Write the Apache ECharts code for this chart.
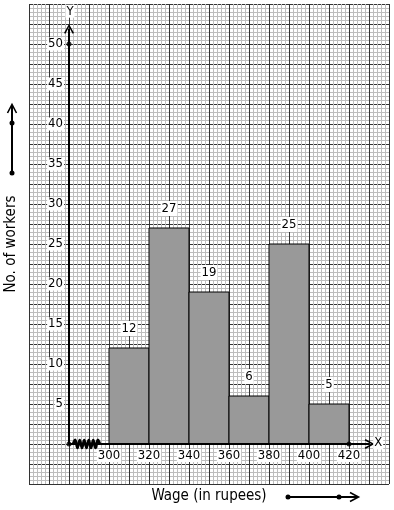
<!DOCTYPE html>
<html><head><meta charset="utf-8">
<script src="https://cdn.jsdelivr.net/npm/echarts@6/dist/echarts.min.js"></script>
<style>html,body{margin:0;padding:0;background:#fff}#c{width:394px;height:510px}</style>
</head><body><div id="c"></div>
<script>
// ---- data ----
const binStarts = [300, 320, 340, 360, 380, 400];
const binWidth = 20;
const workers = [12, 27, 19, 6, 25, 5];
const xTickLabels = [300, 320, 340, 360, 380, 400, 420];
const yTickLabels = [5, 10, 15, 20, 25, 30, 35, 40, 45, 50];
const xRange = [260, 440];
const yRange = [-5, 55];
const originX = 280;          // broken x-axis starts here
const axisDots = [[280, 0], [280, 50], [420, 0]];
const yAxisTop = 51.9;
const xAxisEnd = 430.3;

const FONT = "'DejaVu Sans Condensed', 'DejaVu Sans', sans-serif";
const chevron = 'path://M5,0 L10,9 L8.6,9.8 L5,3.2 L1.4,9.8 L0,9 Z';

const chart = echarts.init(document.getElementById('c'), null, {renderer: 'canvas'});

const gridAxisX = {
  type: 'value', min: xRange[0], max: xRange[1], interval: 10, position: 'bottom',
  axisLine: {show: false}, axisTick: {show: false}, axisLabel: {show: false},
  splitLine: {show: true, lineStyle: {color: '#333', width: 1}},
  minorTick: {show: false, splitNumber: 5},
  minorSplitLine: {show: true, lineStyle: {color: '#bdbdbd', width: 1}},
  name: 'Wage (in rupees)', nameLocation: 'middle', nameGap: 5,
  nameTextStyle: {fontFamily: FONT, fontSize: 15, color: '#000'}
};
const gridAxisY = {
  type: 'value', min: yRange[0], max: yRange[1], interval: 2.5, position: 'left',
  axisLine: {show: false}, axisTick: {show: false}, axisLabel: {show: false},
  splitLine: {show: true, lineStyle: {color: '#333', width: 1}},
  minorTick: {show: false, splitNumber: 5},
  minorSplitLine: {show: true, lineStyle: {color: '#bdbdbd', width: 1}},
  name: 'No. of workers', nameLocation: 'middle', nameGap: 10, nameRotate: 90,
  nameTextStyle: {fontFamily: FONT, fontSize: 15, color: '#000'}
};
const labelAxisX = {
  type: 'value', min: xRange[0], max: xRange[1], interval: 20, position: 'bottom', offset: -40,
  axisLine: {show: false}, axisTick: {show: false}, splitLine: {show: false},
  axisLabel: {
    show: true, margin: 5, fontFamily: FONT, fontSize: 13, color: '#000',
    backgroundColor: '#fff', padding: [0, 1],
    showMinLabel: true, showMaxLabel: true,
    formatter: v => xTickLabels.indexOf(v) >= 0 ? String(v) : ''
  }
};
const labelAxisY = {
  type: 'value', min: yRange[0], max: yRange[1], interval: 5, position: 'left', offset: -40,
  axisLine: {show: false}, axisTick: {show: false}, splitLine: {show: false},
  axisLabel: {
    show: true, margin: 5, fontFamily: FONT, fontSize: 13, color: '#000',
    backgroundColor: '#fff', padding: [0, 1],
    showMinLabel: true, showMaxLabel: true,
    formatter: v => yTickLabels.indexOf(v) >= 0 ? String(v) : ''
  }
};

chart.setOption({
  animation: false,
  backgroundColor: '#fff',
  grid: {left: 29, top: 4, width: 360, height: 480, containLabel: false, outerBoundsMode: 'none'},
  xAxis: [gridAxisX, labelAxisX],
  yAxis: [gridAxisY, labelAxisY],
  series: [
    {
      type: 'custom', xAxisIndex: 0, yAxisIndex: 0, silent: true, z: 5,
      data: binStarts.map((s, i) => [s, s + binWidth, workers[i]]),
      renderItem: function (params, api) {
        const p0 = api.coord([api.value(0), api.value(2)]);
        const p1 = api.coord([api.value(1), 0]);
        return {
          type: 'group',
          children: [
            {type: 'rect',
             shape: {x: p0[0], y: p0[1], width: p1[0] - p0[0], height: p1[1] - p0[1]},
             style: {fill: '#999999', stroke: '#000', lineWidth: 1}},
            {type: 'text',
             style: {text: String(api.value(2)), x: (p0[0] + p1[0]) / 2, y: p0[1] - 12,
                     align: 'center', verticalAlign: 'bottom', fill: '#000',
                     fontFamily: FONT, fontSize: 13, backgroundColor: '#fff', padding: [1, 1]}}
          ]
        };
      }
    },
    {
      type: 'scatter', xAxisIndex: 0, yAxisIndex: 0, silent: true, z: 10,
      symbol: 'circle', symbolSize: 5, itemStyle: {color: '#000'},
      data: axisDots,
      markLine: {
        silent: true, animation: false, z: 9,
        label: {show: false},
        lineStyle: {color: '#000', width: 2, type: 'solid'},
        symbolKeepAspect: true,
        data: [
          [{coord: [originX, 0], symbol: 'none'},
           {coord: [originX, yAxisTop], symbol: chevron, symbolSize: [10, 10]}],
          [{coord: [originX, 0], symbol: 'none'},
           {coord: [xAxisEnd, 0], symbol: chevron, symbolSize: [10, 10]}]
        ]
      }
    }
  ]
});

// decorative: axis letters, zig-zag break, title arrows
const px = v => chart.convertToPixel({xAxisIndex: 0, yAxisIndex: 0}, v);
const zA = px([282, 0]), zB = px([295.5, 0]);
const zig = [];
const nSeg = 12;
for (let k = 0; k <= nSeg; k++) {
  const x = zA[0] + (zB[0] - zA[0]) * k / nSeg;
  const y = zA[1] + ((k === 0 || k === nSeg) ? 0 : (k % 2 ? -4 : 4));
  zig.push([x, y]);
}
const yLab = px([originX, 54.1]);
const xLab = px([434.6, 0]);

chart.setOption({
  graphic: [
    {type: 'polyline', z: 20, shape: {points: zig, smooth: 0.4}, style: {stroke: '#000', lineWidth: 2.6, fill: null}},
    {type: 'text', z: 20, x: yLab[0] + 1, y: yLab[1],
     style: {text: 'Y', fontFamily: FONT, fontSize: 13, fill: '#000', align: 'center', verticalAlign: 'middle',
             backgroundColor: '#fff', padding: [0, 1]}},
    {type: 'text', z: 20, x: xLab[0], y: xLab[1] - 1,
     style: {text: 'X', fontFamily: FONT, fontSize: 13, fill: '#000', align: 'center', verticalAlign: 'middle',
             backgroundColor: '#fff', padding: [0, 1]}},
    // y-title arrow
    {type: 'line', z: 20, shape: {x1: 12, y1: 173, x2: 12, y2: 106}, style: {stroke: '#000', lineWidth: 2}},
    {type: 'polyline', z: 20, shape: {points: [[7.5, 113], [12, 104.5], [16.5, 113]]}, style: {stroke: '#000', lineWidth: 1.6, fill: null}},
    {type: 'circle', z: 20, shape: {cx: 12, cy: 173, r: 2.5}, style: {fill: '#000'}},
    {type: 'circle', z: 20, shape: {cx: 12, cy: 123, r: 2.5}, style: {fill: '#000'}},
    // x-title arrow
    {type: 'line', z: 20, shape: {x1: 288, y1: 497, x2: 357, y2: 497}, style: {stroke: '#000', lineWidth: 2}},
    {type: 'polyline', z: 20, shape: {points: [[350, 492.5], [358.5, 497], [350, 501.5]]}, style: {stroke: '#000', lineWidth: 1.6, fill: null}},
    {type: 'circle', z: 20, shape: {cx: 288, cy: 497, r: 2.5}, style: {fill: '#000'}},
    {type: 'circle', z: 20, shape: {cx: 339, cy: 497, r: 2.5}, style: {fill: '#000'}}
  ]
});
</script>
</body></html>
